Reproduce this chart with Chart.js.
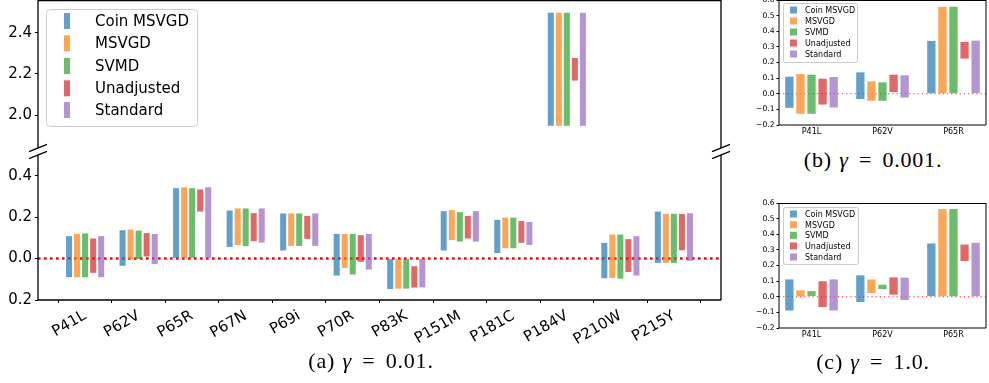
<!DOCTYPE html>
<html>
<head>
<meta charset="utf-8">
<script src="https://cdn.jsdelivr.net/npm/chart.js@4.4.1/dist/chart.umd.min.js"></script>
<style>
  body { margin: 0; background: #fff; width: 989px; height: 383px; position: relative; overflow: hidden; }
  .pane { position: absolute; }
  .cap { position: absolute; font-family: "Liberation Serif", serif; font-size: 22px; line-height: 24px;
         text-align: center; color: #000; letter-spacing: 0.8px; word-spacing: 1px; white-space: nowrap; }
  .cap .eq { margin: 0 3px; }
</style>
</head>
<body>
<canvas id="aTop" class="pane" width="740" height="152" style="left:0;top:0"></canvas>
<canvas id="aBottom" class="pane" width="740" height="200" style="left:0;top:150px"></canvas>
<canvas id="bChart" class="pane" width="249" height="140" style="left:740px;top:0"></canvas>
<canvas id="cChart" class="pane" width="249" height="155" style="left:740px;top:190px"></canvas>
<div class="cap" style="left:271px;top:349px;width:200px">(a) <i>γ</i><span class="eq"> = </span>0.01.</div>
<div class="cap" style="left:773px;top:148px;width:200px">(b) <i>γ</i><span class="eq"> = </span>0.001.</div>
<div class="cap" style="left:773px;top:350px;width:200px">(c) <i>γ</i><span class="eq"> = </span>1.0.</div>
<script>
const categories = ["P41L", "P62V", "P65R", "P67N", "P69i", "P70R", "P83K", "P151M", "P181C", "P184V", "P210W", "P215Y"];
const smallCategories = ["P41L", "P62V", "P65R"];
const methods = ["Coin MSVGD", "MSVGD", "SVMD", "Unadjusted", "Standard"];
const colors = ["rgba(31,119,180,0.7)", "rgba(255,127,14,0.7)", "rgba(44,160,44,0.7)", "rgba(214,39,40,0.7)", "rgba(148,103,189,0.7)"];

// (a) gamma = 0.01 : [low, high] interval per mutation
const aCoin  = [[-0.090, 0.108], [-0.035, 0.137], [0.003, 0.340], [0.056, 0.232], [0.039, 0.218], [-0.082, 0.119], [-0.147, 0.000], [0.039, 0.229], [0.027, 0.187], [1.948, 2.498], [-0.095, 0.076], [-0.021, 0.227]];
const aMsvgd = [[-0.090, 0.119], [-0.002, 0.140], [0.003, 0.344], [0.065, 0.242], [0.061, 0.218], [-0.045, 0.119], [-0.145, -0.003], [0.089, 0.234], [0.050, 0.198], [1.948, 2.498], [-0.094, 0.116], [-0.021, 0.216]];
const aSvmd  = [[-0.090, 0.121], [-0.003, 0.135], [0.003, 0.340], [0.060, 0.242], [0.061, 0.218], [-0.077, 0.119], [-0.145, -0.003], [0.082, 0.224], [0.050, 0.198], [1.948, 2.498], [-0.097, 0.116], [-0.021, 0.216]];
const aUnadj = [[-0.069, 0.097], [0.010, 0.123], [0.227, 0.334], [0.084, 0.219], [0.095, 0.206], [-0.016, 0.113], [-0.140, -0.037], [0.097, 0.206], [0.076, 0.181], [2.168, 2.278], [-0.065, 0.094], [0.040, 0.215]];
const aStd   = [[-0.090, 0.108], [-0.026, 0.119], [0.003, 0.344], [0.077, 0.242], [0.061, 0.218], [-0.053, 0.119], [-0.139, -0.003], [0.082, 0.229], [0.066, 0.177], [1.948, 2.498], [-0.082, 0.108], [-0.011, 0.219]];

// (b) gamma = 0.001
const bCoin  = [[-0.090, 0.109], [-0.034, 0.137], [0.004, 0.338]];
const bMsvgd = [[-0.128, 0.126], [-0.045, 0.079], [0.004, 0.557]];
const bSvmd  = [[-0.128, 0.122], [-0.045, 0.073], [0.004, 0.557]];
const bUnadj = [[-0.069, 0.096], [0.011, 0.122], [0.225, 0.332]];
const bStd   = [[-0.088, 0.107], [-0.024, 0.118], [0.004, 0.340]];

// (c) gamma = 1.0
const cCoin  = [[-0.088, 0.111], [-0.034, 0.137], [0.004, 0.341]];
const cMsvgd = [[0.000, 0.041], [0.024, 0.111], [0.004, 0.562]];
const cSvmd  = [[0.005, 0.036], [0.049, 0.077], [0.004, 0.562]];
const cUnadj = [[-0.066, 0.099], [0.013, 0.124], [0.229, 0.334]];
const cStd   = [[-0.088, 0.111], [-0.021, 0.122], [0.004, 0.345]];

// tick values / labels
const aTopTicks = [2.0, 2.2, 2.4];
const aBottomTicks = [-0.2, 0.0, 0.2, 0.4];
const aBottomTickLabels = ["0.2", "0.0", "0.2", "0.4"];
const smallTicks = [-0.2, -0.1, 0.0, 0.1, 0.2, 0.3, 0.4, 0.5, 0.6];

const FONT = "DejaVu Sans";

// spines, broken-axis marks, zero line and legend
const decor = {
  id: "decor",
  beforeDatasetsDraw(chart, args, o) {
    if (!o.zero) return;
    const { ctx, chartArea: a } = chart;
    const y = chart.scales.y.getPixelForValue(0);
    if (y < a.top || y > a.bottom) return;
    ctx.save();
    ctx.strokeStyle = o.zero.color;
    ctx.lineWidth = o.zero.width;
    ctx.setLineDash(o.zero.dash);
    ctx.beginPath();
    ctx.moveTo(a.left, y);
    ctx.lineTo(a.right, y);
    ctx.stroke();
    ctx.restore();
  },
  afterDraw(chart, args, o) {
    const { ctx, chartArea: a } = chart;
    ctx.save();
    ctx.strokeStyle = "#000";
    ctx.lineWidth = o.spineWidth;
    ctx.beginPath();
    if (o.spines.includes("top")) { ctx.moveTo(a.left, a.top + 0.5); ctx.lineTo(a.right, a.top + 0.5); }
    if (o.spines.includes("bottom")) { ctx.moveTo(a.left, a.bottom); ctx.lineTo(a.right, a.bottom); }
    if (o.spines.includes("left")) { ctx.moveTo(a.left, a.top); ctx.lineTo(a.left, a.bottom); }
    if (o.spines.includes("right")) { ctx.moveTo(a.right, a.top); ctx.lineTo(a.right, a.bottom); }
    ctx.stroke();
    if (o.breakAt) {
      const yb = o.breakAt === "bottom" ? a.bottom : a.top;
      ctx.beginPath();
      [a.left, a.right].forEach(x => {
        ctx.moveTo(x - 9, yb + 3.7);
        ctx.lineTo(x + 9, yb - 3.7);
      });
      ctx.stroke();
    }
    const L = o.legend;
    if (L) {
      ctx.fillStyle = "rgba(255,255,255,0.8)";
      ctx.strokeStyle = "#cccccc";
      ctx.lineWidth = 1;
      ctx.beginPath();
      ctx.roundRect(L.x + 0.5, L.y + 0.5, L.w, L.h, L.r);
      ctx.fill();
      ctx.stroke();
      ctx.font = L.size + "px '" + FONT + "'";
      ctx.textBaseline = "middle";
      chart.data.datasets.forEach((ds, k) => {
        const cy = L.rows[k];
        ctx.fillStyle = ds.backgroundColor;
        ctx.fillRect(L.hx, cy - L.hh / 2, L.hw, L.hh);
        ctx.fillStyle = "#000";
        ctx.fillText(ds.label, L.tx, cy + 1);
      });
    }
    ctx.restore();
  }
};

function makeDatasets(series, catPct, barPct) {
  return series.map((s, k) => ({
    label: methods[k],
    data: s.map((r, i) => ({ x: i, y: r })),
    backgroundColor: colors[k],
    borderWidth: 0,
    clip: 0,
    categoryPercentage: catPct,
    barPercentage: barPct
  }));
}

function panel(id, p) {
  return new Chart(document.getElementById(id), {
    type: "bar",
    data: { datasets: makeDatasets(p.series, p.catPct, p.barPct) },
    options: {
      responsive: false,
      animation: false,
      devicePixelRatio: 1,
      layout: { padding: p.padding },
      plugins: { legend: { display: false }, tooltip: { enabled: false }, decor: p.decor },
      scales: {
        x: {
          type: "linear", min: p.xMin, max: p.xMax, offset: false, display: p.showX,
          afterBuildTicks: ax => { ax.ticks = p.cats.map((c, i) => ({ value: i })); },
          afterFit: ax => { ax.height = p.xHeight; ax.paddingLeft = 0; ax.paddingRight = 0; },
          ticks: {
            autoSkip: false, minRotation: p.xRot, maxRotation: p.xRot,
            callback: v => p.cats[v], font: { family: FONT, size: p.xFont }, color: "#000", padding: p.xPad
          },
          grid: { drawOnChartArea: false, drawTicks: p.xTickLen > 0, tickLength: p.xTickLen, color: "#000" },
          border: { display: false }
        },
        y: {
          type: "linear", min: p.yMin, max: p.yMax,
          afterBuildTicks: ax => { ax.ticks = p.yTicks.map(v => ({ value: v })); },
          afterFit: ax => { ax.width = p.yWidth; ax.paddingTop = 0; ax.paddingBottom = 0; },
          ticks: { callback: p.yFmt, font: { family: FONT, size: p.yFont }, color: "#000", padding: p.yPad },
          grid: { drawOnChartArea: false, drawTicks: true, tickLength: p.yTickLen, color: "#000" },
          border: { display: false }
        }
      }
    },
    plugins: [decor]
  });
}

const aSeries = [aCoin, aMsvgd, aSvmd, aUnadj, aStd];
const mainCommon = {
  series: aSeries, cats: categories, catPct: 0.75, barPct: 0.75,
  xMin: -0.88, xMax: 11.88, xRot: 30, xFont: 15, xPad: 4, xTickLen: 3,
  yWidth: 38, yFont: 15, yPad: 3, yTickLen: 3
};

// (a) upper part of the broken axis
panel("aTop", Object.assign({}, mainCommon, {
  showX: false, xHeight: 0,
  padding: { top: 0, bottom: 4, left: 0, right: 19 },
  yMin: 1.84, yMax: 2.56, yTicks: aTopTicks, yFmt: v => v.toFixed(1),
  decor: {
    spines: ["top", "left", "right"], spineWidth: 1.3, breakAt: "bottom",
    legend: { x: 46, y: 9, w: 151, h: 117, r: 4, rows: [21, 43.3, 66, 88.3, 110], hx: 64, hw: 6, hh: 16, tx: 95, size: 15 }
  }
}));

// (a) lower part of the broken axis
panel("aBottom", Object.assign({}, mainCommon, {
  showX: true, xHeight: 50,
  padding: { top: 5, bottom: 0, left: 0, right: 19 },
  yMin: -0.2, yMax: 0.5, yTicks: aBottomTicks, yFmt: (v, i) => aBottomTickLabels[i],
  decor: {
    spines: ["bottom", "left", "right"], spineWidth: 1.3, breakAt: "top",
    zero: { color: "#ff0000", width: 2.4, dash: [2.6, 3.4] }
  }
}));

const smallFmt = v => (v < 0 ? "\u2212" + Math.abs(v).toFixed(1) : v.toFixed(1));
const smallCommon = {
  cats: smallCategories, catPct: 0.78, barPct: 0.75,
  xMin: -0.458, xMax: 2.458, xRot: 0, xFont: 8, xPad: 2, xTickLen: 0, showX: true,
  yWidth: 39, yFont: 7.6, yPad: 2, yTickLen: 2.5,
  yMin: -0.2, yMax: 0.6, yTicks: smallTicks, yFmt: smallFmt
};

panel("bChart", Object.assign({}, smallCommon, {
  series: [bCoin, bMsvgd, bSvmd, bUnadj, bStd],
  xHeight: 15, padding: { top: 0, bottom: 0, left: 0, right: 3 },
  decor: {
    spines: ["top", "bottom", "left", "right"], spineWidth: 1,
    zero: { color: "rgba(255,0,0,0.85)", width: 1.2, dash: [1.2, 3] },
    legend: { x: 43, y: 3, w: 74, h: 59, r: 2, rows: [10, 21, 32, 43, 54], hx: 50, hw: 7, hh: 7, tx: 65, size: 8 }
  }
}));

panel("cChart", Object.assign({}, smallCommon, {
  series: [cCoin, cMsvgd, cSvmd, cUnadj, cStd],
  xHeight: 17, padding: { top: 13, bottom: 0, left: 0, right: 3 },
  decor: {
    spines: ["top", "bottom", "left", "right"], spineWidth: 1,
    zero: { color: "rgba(255,0,0,0.85)", width: 1.2, dash: [1.2, 3] },
    legend: { x: 43, y: 17, w: 75, h: 57, r: 2, rows: [24, 34.7, 45.3, 56, 67], hx: 50, hw: 7, hh: 7, tx: 65, size: 8 }
  }
}));
</script>
</body>
</html>
